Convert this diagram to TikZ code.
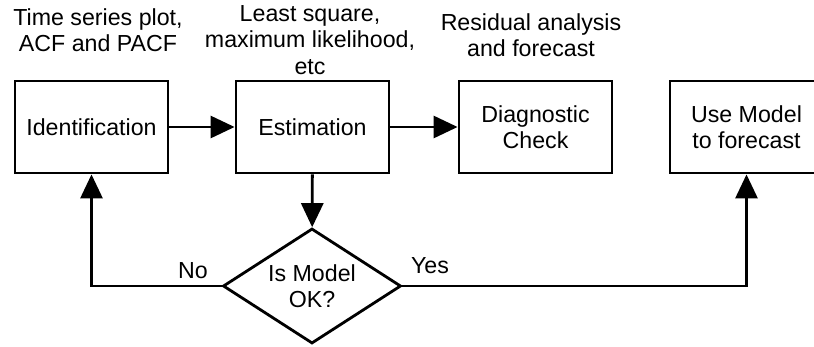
\documentclass[tikz,border=0pt]{standalone}
\usepackage{fontspec}
\setmainfont{Liberation Sans}
\usetikzlibrary{shapes.geometric, arrows.meta}

\begin{document}
\begin{tikzpicture}[
    every node/.style = {font = \fontsize{13.2}{15}\selectfont, align = center},
    stagebox/.style = {draw, line width = 1.6pt, minimum width = 3.06cm, minimum height = 1.84cm},
    flow/.style = {line width = 1.6pt, -{Triangle[width = 0.44cm, length = 0.48cm]}}
  ]
  \useasboundingbox (0, 0) rectangle (16.28, 6.92);

  \node[stagebox] (ident) at (1.83, 4.38) {Identification};
  \node[stagebox] (estim) at (6.25, 4.38) {Estimation};
  \node[stagebox] (diag) at (10.71, 4.38) {Diagnostic\\Check};
  \node[stagebox] (use) at (14.93, 4.38) {Use Model\\to forecast};

  \node[draw, diamond, aspect = 1.5, line width = 1.6pt, inner sep = 0pt,
    minimum width = 3.56cm, minimum height = 2.3cm] (ok) at (6.24, 1.2)
    {Is Model\\OK?};

  \node (identnote) at (1.96, 6.32) {Time series plot,\\ACF and PACF};
  \node (estimnote) at (6.2, 6.12) {Least square,\\maximum likelihood,\\etc};
  \node (diagnote) at (10.62, 6.21) {Residual analysis\\and forecast};

  \draw[flow] (ident) -- (estim);
  \draw[flow] (estim) -- (diag);
  \draw[flow] (estim) -- (ok);

  \draw[flow] (ok.west) -| (ident.south);
  \draw[flow] (ok.east) -| (use.south);

  \node (no) at (3.86, 1.5) {No};
  \node (yes) at (8.6, 1.6) {Yes};
\end{tikzpicture}
\end{document}
